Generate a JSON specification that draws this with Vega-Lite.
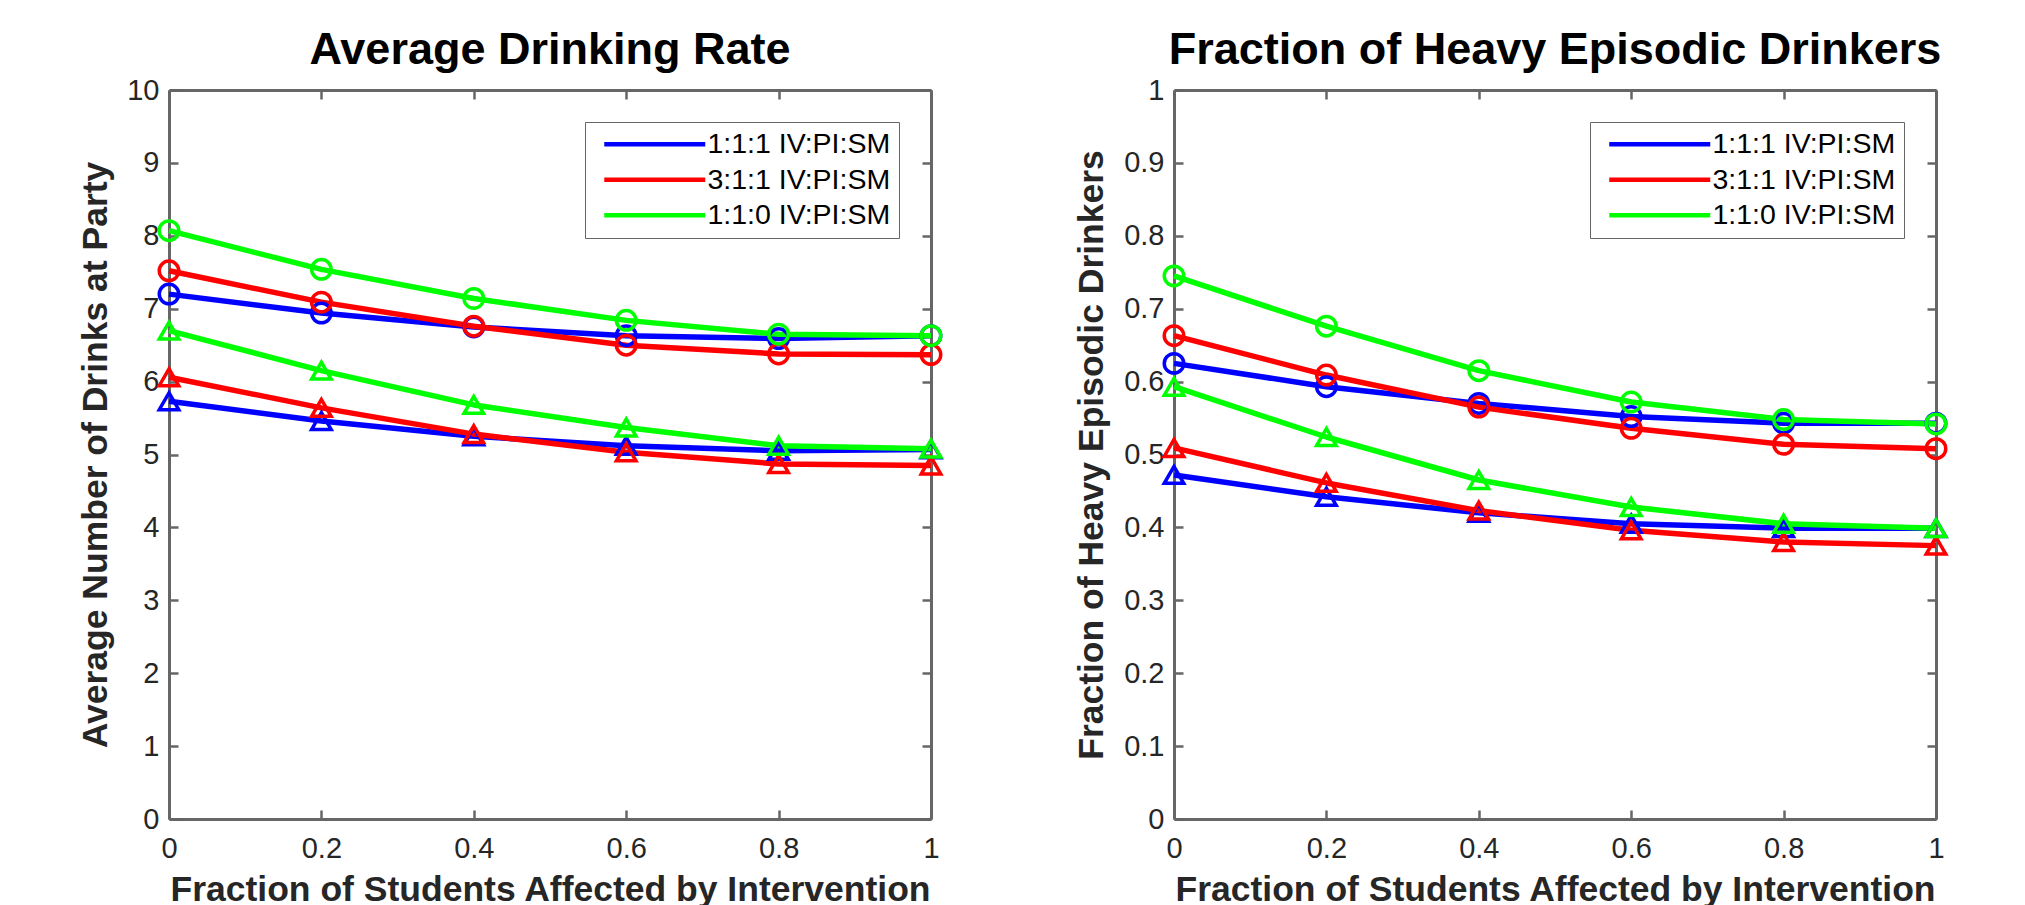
{
  "$schema": "https://vega.github.io/schema/vega-lite/v6.json",
  "background": "white",
  "padding": {"left": 78, "top": 28, "right": 5, "bottom": 0},
  "bounds": "flush",
  "spacing": 243,
  "datasets": {
    "rate": [
      {"config": "1:1:1 IV:PI:SM", "type": "circle", "x": 0, "y": 7.20},
      {"config": "1:1:1 IV:PI:SM", "type": "circle", "x": 0.2, "y": 6.94},
      {"config": "1:1:1 IV:PI:SM", "type": "circle", "x": 0.4, "y": 6.75},
      {"config": "1:1:1 IV:PI:SM", "type": "circle", "x": 0.6, "y": 6.63},
      {"config": "1:1:1 IV:PI:SM", "type": "circle", "x": 0.8, "y": 6.59},
      {"config": "1:1:1 IV:PI:SM", "type": "circle", "x": 1, "y": 6.63},
      {"config": "1:1:1 IV:PI:SM", "type": "triangle", "x": 0, "y": 5.73},
      {"config": "1:1:1 IV:PI:SM", "type": "triangle", "x": 0.2, "y": 5.46},
      {"config": "1:1:1 IV:PI:SM", "type": "triangle", "x": 0.4, "y": 5.25},
      {"config": "1:1:1 IV:PI:SM", "type": "triangle", "x": 0.6, "y": 5.12},
      {"config": "1:1:1 IV:PI:SM", "type": "triangle", "x": 0.8, "y": 5.05},
      {"config": "1:1:1 IV:PI:SM", "type": "triangle", "x": 1, "y": 5.07},
      {"config": "3:1:1 IV:PI:SM", "type": "circle", "x": 0, "y": 7.52},
      {"config": "3:1:1 IV:PI:SM", "type": "circle", "x": 0.2, "y": 7.09},
      {"config": "3:1:1 IV:PI:SM", "type": "circle", "x": 0.4, "y": 6.76},
      {"config": "3:1:1 IV:PI:SM", "type": "circle", "x": 0.6, "y": 6.50},
      {"config": "3:1:1 IV:PI:SM", "type": "circle", "x": 0.8, "y": 6.38},
      {"config": "3:1:1 IV:PI:SM", "type": "circle", "x": 1, "y": 6.37},
      {"config": "3:1:1 IV:PI:SM", "type": "triangle", "x": 0, "y": 6.06},
      {"config": "3:1:1 IV:PI:SM", "type": "triangle", "x": 0.2, "y": 5.64},
      {"config": "3:1:1 IV:PI:SM", "type": "triangle", "x": 0.4, "y": 5.28},
      {"config": "3:1:1 IV:PI:SM", "type": "triangle", "x": 0.6, "y": 5.03},
      {"config": "3:1:1 IV:PI:SM", "type": "triangle", "x": 0.8, "y": 4.87},
      {"config": "3:1:1 IV:PI:SM", "type": "triangle", "x": 1, "y": 4.85},
      {"config": "1:1:0 IV:PI:SM", "type": "circle", "x": 0, "y": 8.07},
      {"config": "1:1:0 IV:PI:SM", "type": "circle", "x": 0.2, "y": 7.54},
      {"config": "1:1:0 IV:PI:SM", "type": "circle", "x": 0.4, "y": 7.14},
      {"config": "1:1:0 IV:PI:SM", "type": "circle", "x": 0.6, "y": 6.84},
      {"config": "1:1:0 IV:PI:SM", "type": "circle", "x": 0.8, "y": 6.65},
      {"config": "1:1:0 IV:PI:SM", "type": "circle", "x": 1, "y": 6.63},
      {"config": "1:1:0 IV:PI:SM", "type": "triangle", "x": 0, "y": 6.70},
      {"config": "1:1:0 IV:PI:SM", "type": "triangle", "x": 0.2, "y": 6.15},
      {"config": "1:1:0 IV:PI:SM", "type": "triangle", "x": 0.4, "y": 5.68},
      {"config": "1:1:0 IV:PI:SM", "type": "triangle", "x": 0.6, "y": 5.37},
      {"config": "1:1:0 IV:PI:SM", "type": "triangle", "x": 0.8, "y": 5.12},
      {"config": "1:1:0 IV:PI:SM", "type": "triangle", "x": 1, "y": 5.08}
    ],
    "heavy": [
      {"config": "1:1:1 IV:PI:SM", "type": "circle", "x": 0, "y": 0.625},
      {"config": "1:1:1 IV:PI:SM", "type": "circle", "x": 0.2, "y": 0.593},
      {"config": "1:1:1 IV:PI:SM", "type": "circle", "x": 0.4, "y": 0.570},
      {"config": "1:1:1 IV:PI:SM", "type": "circle", "x": 0.6, "y": 0.552},
      {"config": "1:1:1 IV:PI:SM", "type": "circle", "x": 0.8, "y": 0.543},
      {"config": "1:1:1 IV:PI:SM", "type": "circle", "x": 1, "y": 0.543},
      {"config": "1:1:1 IV:PI:SM", "type": "triangle", "x": 0, "y": 0.472},
      {"config": "1:1:1 IV:PI:SM", "type": "triangle", "x": 0.2, "y": 0.442},
      {"config": "1:1:1 IV:PI:SM", "type": "triangle", "x": 0.4, "y": 0.420},
      {"config": "1:1:1 IV:PI:SM", "type": "triangle", "x": 0.6, "y": 0.405},
      {"config": "1:1:1 IV:PI:SM", "type": "triangle", "x": 0.8, "y": 0.399},
      {"config": "1:1:1 IV:PI:SM", "type": "triangle", "x": 1, "y": 0.399},
      {"config": "3:1:1 IV:PI:SM", "type": "circle", "x": 0, "y": 0.663},
      {"config": "3:1:1 IV:PI:SM", "type": "circle", "x": 0.2, "y": 0.609},
      {"config": "3:1:1 IV:PI:SM", "type": "circle", "x": 0.4, "y": 0.565},
      {"config": "3:1:1 IV:PI:SM", "type": "circle", "x": 0.6, "y": 0.536},
      {"config": "3:1:1 IV:PI:SM", "type": "circle", "x": 0.8, "y": 0.514},
      {"config": "3:1:1 IV:PI:SM", "type": "circle", "x": 1, "y": 0.508},
      {"config": "3:1:1 IV:PI:SM", "type": "triangle", "x": 0, "y": 0.509},
      {"config": "3:1:1 IV:PI:SM", "type": "triangle", "x": 0.2, "y": 0.461},
      {"config": "3:1:1 IV:PI:SM", "type": "triangle", "x": 0.4, "y": 0.423},
      {"config": "3:1:1 IV:PI:SM", "type": "triangle", "x": 0.6, "y": 0.396},
      {"config": "3:1:1 IV:PI:SM", "type": "triangle", "x": 0.8, "y": 0.380},
      {"config": "3:1:1 IV:PI:SM", "type": "triangle", "x": 1, "y": 0.375},
      {"config": "1:1:0 IV:PI:SM", "type": "circle", "x": 0, "y": 0.745},
      {"config": "1:1:0 IV:PI:SM", "type": "circle", "x": 0.2, "y": 0.676},
      {"config": "1:1:0 IV:PI:SM", "type": "circle", "x": 0.4, "y": 0.615},
      {"config": "1:1:0 IV:PI:SM", "type": "circle", "x": 0.6, "y": 0.572},
      {"config": "1:1:0 IV:PI:SM", "type": "circle", "x": 0.8, "y": 0.548},
      {"config": "1:1:0 IV:PI:SM", "type": "circle", "x": 1, "y": 0.542},
      {"config": "1:1:0 IV:PI:SM", "type": "triangle", "x": 0, "y": 0.593},
      {"config": "1:1:0 IV:PI:SM", "type": "triangle", "x": 0.2, "y": 0.524},
      {"config": "1:1:0 IV:PI:SM", "type": "triangle", "x": 0.4, "y": 0.465},
      {"config": "1:1:0 IV:PI:SM", "type": "triangle", "x": 0.6, "y": 0.428},
      {"config": "1:1:0 IV:PI:SM", "type": "triangle", "x": 0.8, "y": 0.405},
      {"config": "1:1:0 IV:PI:SM", "type": "triangle", "x": 1, "y": 0.399}
    ]
  },
  "hconcat": [
    {
      "width": 762,
      "height": 729,
      "title": {"text": "Average Drinking Rate"},
      "data": {"name": "rate"},
      "layer": [
        {
          "mark": {"type": "line", "strokeWidth": 5.5, "strokeJoin": "round"},
          "encoding": {
            "x": {"field": "x", "type": "quantitative", "scale": {"domain": [0, 1], "nice": false},
                  "axis": {"orient": "bottom", "values": [0, 0.2, 0.4, 0.6, 0.8, 1], "format": "~g", "labelPadding": 24, "title": "Fraction of Students Affected by Intervention"}},
            "y": {"field": "y", "type": "quantitative", "scale": {"domain": [0, 10], "nice": false},
                  "axis": {"orient": "left", "values": [0, 1, 2, 3, 4, 5, 6, 7, 8, 9, 10], "format": "d", "title": "Average Number of Drinks at Party", "titlePadding": 13}},
            "color": {"field": "config", "type": "nominal",
                      "scale": {"domain": ["1:1:1 IV:PI:SM", "3:1:1 IV:PI:SM", "1:1:0 IV:PI:SM"], "range": ["#0000ff", "#ff0000", "#00ff00"]},
                      "legend": {"orient": "top-right", "offset": 32, "title": null}},
            "detail": {"field": "type"}
          }
        },
        {
          "mark": {"type": "point", "filled": false, "strokeWidth": 3.5, "size": 380, "opacity": 1},
          "encoding": {
            "x": {"field": "x", "type": "quantitative",
                  "axis": {"orient": "top", "values": [0, 0.2, 0.4, 0.6, 0.8, 1], "labels": false, "title": null}},
            "y": {"field": "y", "type": "quantitative",
                  "axis": {"orient": "right", "values": [0, 1, 2, 3, 4, 5, 6, 7, 8, 9, 10], "labels": false, "title": null}},
            "color": {"field": "config", "type": "nominal", "legend": null},
            "shape": {"field": "type", "type": "nominal", "scale": {"domain": ["circle", "triangle"], "range": ["circle", "triangle-up"]}, "legend": null}
          }
        }
      ],
      "resolve": {"axis": {"x": "independent", "y": "independent"}}
    },
    {
      "width": 762,
      "height": 729,
      "title": {"text": "Fraction of Heavy Episodic Drinkers"},
      "data": {"name": "heavy"},
      "layer": [
        {
          "mark": {"type": "line", "strokeWidth": 5.5, "strokeJoin": "round"},
          "encoding": {
            "x": {"field": "x", "type": "quantitative", "scale": {"domain": [0, 1], "nice": false},
                  "axis": {"orient": "bottom", "values": [0, 0.2, 0.4, 0.6, 0.8, 1], "format": "~g", "labelPadding": 24, "title": "Fraction of Students Affected by Intervention"}},
            "y": {"field": "y", "type": "quantitative", "scale": {"domain": [0, 1], "nice": false},
                  "axis": {"orient": "left", "values": [0, 0.1, 0.2, 0.3, 0.4, 0.5, 0.6, 0.7, 0.8, 0.9, 1], "format": "~g", "title": "Fraction of Heavy Episodic Drinkers", "titlePadding": 14}},
            "color": {"field": "config", "type": "nominal",
                      "scale": {"domain": ["1:1:1 IV:PI:SM", "3:1:1 IV:PI:SM", "1:1:0 IV:PI:SM"], "range": ["#0000ff", "#ff0000", "#00ff00"]},
                      "legend": {"orient": "top-right", "offset": 32, "title": null}},
            "detail": {"field": "type"}
          }
        },
        {
          "mark": {"type": "point", "filled": false, "strokeWidth": 3.5, "size": 380, "opacity": 1},
          "encoding": {
            "x": {"field": "x", "type": "quantitative",
                  "axis": {"orient": "top", "values": [0, 0.2, 0.4, 0.6, 0.8, 1], "labels": false, "title": null}},
            "y": {"field": "y", "type": "quantitative",
                  "axis": {"orient": "right", "values": [0, 0.1, 0.2, 0.3, 0.4, 0.5, 0.6, 0.7, 0.8, 0.9, 1], "labels": false, "title": null}},
            "color": {"field": "config", "type": "nominal", "legend": null},
            "shape": {"field": "type", "type": "nominal", "scale": {"domain": ["circle", "triangle"], "range": ["circle", "triangle-up"]}, "legend": null}
          }
        }
      ],
      "resolve": {"axis": {"x": "independent", "y": "independent"}}
    }
  ],
  "resolve": {"scale": {"color": "independent"}},
  "config": {
    "font": "Liberation Sans",
    "view": {"stroke": null},
    "title": {"font": "Liberation Sans", "fontSize": 45, "fontWeight": "bold", "color": "#000000", "anchor": "middle", "offset": 3},
    "axis": {
      "grid": false,
      "labelFont": "Liberation Sans",
      "labelFontSize": 29,
      "labelColor": "#262626",
      "labelPadding": 19,
      "labelFlush": false,
      "labelOverlap": false,
      "titleFont": "Liberation Sans",
      "titleFontSize": 35.5,
      "titleFontWeight": "bold",
      "titleColor": "#262626",
      "titlePadding": 9,
      "domainColor": "#666666",
      "domainWidth": 3,
      "tickColor": "#666666",
      "tickWidth": 2.5,
      "tickSize": -9
    },
    "legend": {
      "labelFont": "Liberation Sans",
      "labelFontSize": 28.5,
      "labelColor": "#000000",
      "labelLimit": 400,
      "symbolType": "M-0.3,0H9.8",
      "symbolSize": 400,
      "symbolStrokeWidth": 4.5,
      "labelOffset": 86,
      "rowPadding": 6.5,
      "padding": 8,
      "strokeColor": "#666666",
      "fillColor": "#ffffff",
      "symbolOpacity": 1
    }
  }
}
